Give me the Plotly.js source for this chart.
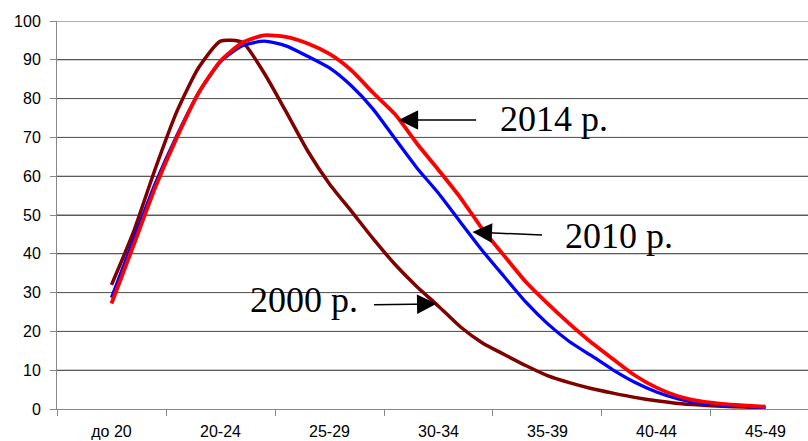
<!DOCTYPE html>
<html>
<head>
<meta charset="utf-8">
<script src="https://cdn.plot.ly/plotly-3.0.1.min.js"></script>
<style>
html,body{margin:0;padding:0;overflow:hidden;background:#fff;}
#chart{width:808px;height:441px;}
</style>
</head>
<body>
<div id="chart"></div>
<script>
// Category labels (age groups) and their centre ages
const categories = ['до 20','20-24','25-29','30-34','35-39','40-44','45-49'];
const categoryCenters = [17,22,27,32,37,42,47];

// Y-axis tick values
const yTicks = [0,10,20,30,40,50,60,70,80,90,100];

// Single-year ages (x values of the curves)
const ages = [17,18,19,20,21,22,23,24,25,26,27,28,29,30,31,32,33,34,35,36,37,38,39,40,41,42,43,44,45,46,47];

// Values
const y2000 = [32.0,45.5,61.8,76.7,88.0,94.8,94.5,86.6,76.7,66.5,58.0,51.0,43.9,37.3,31.6,26.5,21.2,17.1,14.1,11.2,8.6,6.8,5.3,4.1,3.0,2.1,1.4,1.0,0.7,0.5,0.3];
const y2010 = [28.7,43.5,58.0,70.5,81.5,89.5,93.6,94.8,93.6,90.9,87.9,83.3,77.3,69.7,62.2,55.6,48.2,40.9,34.2,27.6,22.0,17.4,13.8,10.1,6.9,4.4,2.6,1.5,1.0,0.7,0.4];
const y2014 = [27.2,42.0,57.0,70.0,81.5,89.7,94.4,96.3,95.9,94.2,91.5,87.3,81.5,76.0,68.5,61.6,54.5,46.5,39.6,32.8,27.2,22.0,17.2,12.9,8.7,5.5,3.3,2.0,1.3,0.9,0.6];

const seriesNames = ['2000 р.','2010 р.','2014 р.'];
const seriesColors = ['#800000','#0000FF','#FF0000'];
const seriesWidths = [3.5, 3.3, 3.8];

const boundaries = categoryCenters.map(c => c - 2.5).concat([categoryCenters[categoryCenters.length-1] + 2.5]);
// the reference is cropped on the right, inside the last category
const xRange = [boundaries[0], boundaries[boundaries.length-1] - 0.55];

const traces = [y2000, y2010, y2014].map((ys, i) => ({
  x: ages, y: ys, type: 'scatter', mode: 'lines', name: seriesNames[i],
  line: {color: seriesColors[i], width: seriesWidths[i], shape: 'spline', smoothing: 0.6},
  hoverinfo: 'skip'
}));

// horizontal gridlines built from the tick values (paper-referenced, independent of subplot layers)
const gridShapes = yTicks.filter(v => v > 0).map(v => ({
  type: 'line', xref: 'paper', x0: 0, x1: 1, yref: 'y', y0: v, y1: v,
  line: {color: '#5a5a5a', width: 1}, layer: 'below'
}));

const serif = 'Liberation Serif, Times New Roman, serif';
const arrowBase = {showarrow: true, arrowhead: 2, arrowsize: 2.6, arrowwidth: 1.5,
  arrowcolor: '#000', text: ' ', font: {size: 1}, xref: 'x', yref: 'y', standoff: 0};

const layout = {
  width: 808, height: 441,
  margin: {l: 57, r: 0, t: 21, b: 32},
  paper_bgcolor: '#fff', plot_bgcolor: 'rgba(0,0,0,0)',
  showlegend: false,
  font: {family: 'Liberation Sans, Arial, sans-serif', size: 16, color: '#000'},
  xaxis: {
    range: xRange,
    tickvals: categoryCenters, ticktext: categories, ticks: '',
    minor: {tickvals: boundaries, ticks: 'outside', ticklen: 6, tickcolor: '#888', showgrid: false},
    showgrid: false, zeroline: false, showline: true, linecolor: '#888', linewidth: 1,
    ticklabelstandoff: 8, fixedrange: true
  },
  yaxis: {
    range: [0, 100], tickvals: yTicks,
    ticks: 'outside', ticklen: 6, tickcolor: '#888',
    showgrid: true, gridcolor: '#5a5a5a', gridwidth: 1,
    zeroline: false, showline: true, linecolor: '#888', linewidth: 1,
    ticklabelstandoff: 6, fixedrange: true
  },
  shapes: gridShapes,
  annotations: [
    {text: '2014 р.', x: 34.71, y: 74.7, xref: 'x', yref: 'y', xanchor: 'left', yanchor: 'middle', showarrow: false, font: {family: serif, size: 36, color: '#000'}},
    {text: '2010 р.', x: 37.73, y: 44.6, xref: 'x', yref: 'y', xanchor: 'left', yanchor: 'middle', showarrow: false, font: {family: serif, size: 36, color: '#000'}},
    {text: '2000 р.', x: 23.24, y: 28.1, xref: 'x', yref: 'y', xanchor: 'left', yanchor: 'middle', showarrow: false, font: {family: serif, size: 36, color: '#000'}},
    Object.assign({}, arrowBase, {x: 30.17, y: 74.5, ax: 79, ay: 0}),
    Object.assign({}, arrowBase, {x: 33.56, y: 45.6, ax: 71, ay: 3}),
    Object.assign({}, arrowBase, {x: 31.91, y: 27.1, ax: -64, ay: 1})
  ]
};

Plotly.newPlot('chart', traces, layout, {displayModeBar: false, staticPlot: true});
</script>
</body>
</html>
